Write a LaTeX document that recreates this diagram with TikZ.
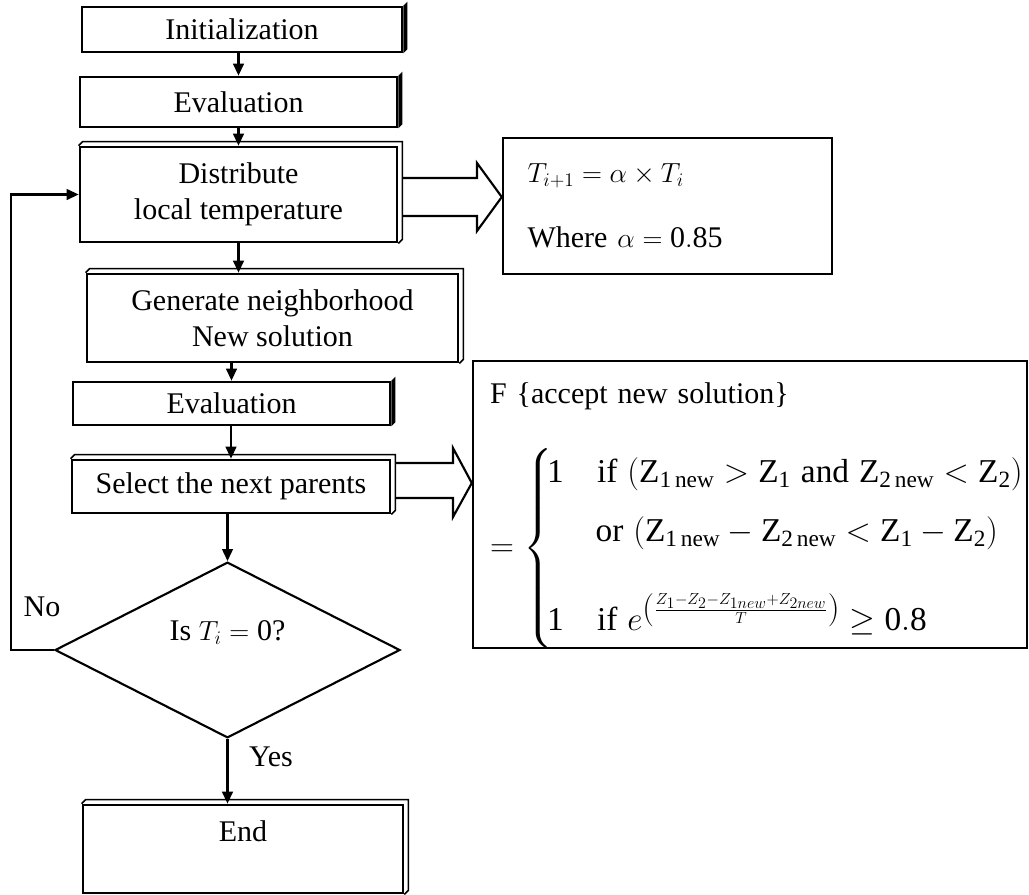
\documentclass[tikz,border=0pt]{standalone}
\usepackage{amsmath}
\usepackage{fontspec}
\setmainfont{Liberation Serif}
\usetikzlibrary{shapes.geometric,arrows.meta,calc}

\tikzset{
  box/.style={draw, line width=2pt, fill=white, align=center, inner sep=0pt, font=\fontsize{22.5}{27}\selectfont},
  rule/.style={draw, line width=1.8pt, align=left, inner sep=0pt, font=\fontsize{22.5}{27}\selectfont},
  lbl/.style={inner sep=0pt, font=\fontsize{22.5}{27}\selectfont},
  flow/.style={-{Triangle[length=9pt,width=8pt]}, line width=1.6pt},
  fatarrow/.style={line width=1.6pt, line join=miter},
}

\begin{document}
\begin{tikzpicture}[x=0.75pt,y=0.75pt,yscale=-1,xscale=1]
\useasboundingbox (0,0) rectangle (1029,894);
% main flow
\node[box, minimum width=240pt, minimum height=33.75pt] (init) at (242,29.5) {Initialization};
\node[box, minimum width=237.75pt, minimum height=37.5pt] (eval1) at (238.5,102) {Evaluation};
\node[box, minimum width=237.75pt, minimum height=71.25pt] (dist) at (238.5,194.5) {Distribute\\local temperature};
\node[box, minimum width=278.25pt, minimum height=66pt] (gen) at (272.5,318) {Generate neighborhood\\New solution};
\node[box, minimum width=237.75pt, minimum height=32.25pt] (eval2) at (231.5,403.5) {Evaluation};
\node[box, minimum width=238.5pt, minimum height=39.75pt] (sel) at (231,486.5) {Select the next parents};
\node[diamond, draw, line width=1.6pt, minimum width=258.75pt, minimum height=131.25pt, inner sep=0pt,
  font=\fontsize{22.5}{27}\selectfont, text height=15pt, text depth=30pt] (test) at (227.5,650) {Is $T_i = \mathrm{0}$?};
\node[box, minimum width=240pt, text height=15pt, text depth=27pt, inner ysep=12pt] (stop) at (243,849) {End};

% 3d edges of the boxes
\foreach \n in {init,eval1,eval2}
  \fill (\n.north east) -- ++(4,-4) -- ($(\n.south east)+(4,-4)$) -- (\n.south east) -- cycle;
\foreach \n in {dist,gen,sel,stop}
  \draw[line width=1.2pt] (\n.north west) -- ++(4,-4) -| ($(\n.south east)+(4,-4)$) -- (\n.south east);

% side boxes
\node[rule, minimum width=246.75pt, minimum height=102pt, text width=210pt] (rule1) at (667.5,206)
  {$T_{i+1} = \alpha\times T_i$\\[22pt] Where $\alpha = \mathrm{0.85}$};
\node[rule, minimum width=415.5pt, minimum height=213.75pt, text width=390pt] (rule2) at (750,504.5)
  {\rule{0pt}{32pt}F \{accept new solution\}\\[28pt]
  {\fontsize{25}{30}\selectfont$= \left\{\!\begin{array}{@{}l@{}}
  \mathrm{1}\quad\text{if } (\mathrm{Z}_{\mathrm{1}\,\mathrm{new}} > \mathrm{Z}_{\mathrm{1}} \text{ and } \mathrm{Z}_{\mathrm{2}\,\mathrm{new}} < \mathrm{Z}_{\mathrm{2}})\\[14pt]
  \phantom{1}\quad\text{or } (\mathrm{Z}_{\mathrm{1}\,\mathrm{new}} - \mathrm{Z}_{\mathrm{2}\,\mathrm{new}} < \mathrm{Z}_{\mathrm{1}} - \mathrm{Z}_{\mathrm{2}})\\[30pt]
  \mathrm{1}\quad\text{if } e^{\left(\frac{Z_1-Z_2-Z_{1new}+Z_{2new}}{T}\right)} \geq \mathrm{0.8}
  \end{array}\right.$}};

% connectors
\draw[flow] (eval1.north |- init.south) -- (eval1.north);
\draw[flow] (eval1.south) -- (dist.north);
\draw[flow] (dist.south) -- (dist.south |- gen.north);
\draw[flow] (eval2.north |- gen.south) -- (eval2.north);
\draw[flow] (sel.north |- eval2.south) -- (sel.north);
\draw[flow] (test.north |- sel.south) -- (test.north);
\draw[flow] (test.south) -- (test.south |- stop.north);
\draw[flow] (test.west) -- ++(-43,0) |- (dist.west);
\node[lbl] (no) at (42,607) {No};
\node[lbl] (yes) at (271,757) {Yes};

% block arrows
\draw[fatarrow] ([xshift=3pt]dist.east |- 0,178) -- (477,178) -- (477,163) -- (rule1.west |- 0,197)
  -- (477,231) -- (477,216) -- ([xshift=3pt]dist.east |- 0,216);
\draw[fatarrow] ([xshift=3pt]sel.east |- 0,463) -- (453,463) -- (453,448) -- (rule2.west |- 0,483)
  -- (453,517) -- (453,498) -- ([xshift=3pt]sel.east |- 0,498);
\end{tikzpicture}
\end{document}
